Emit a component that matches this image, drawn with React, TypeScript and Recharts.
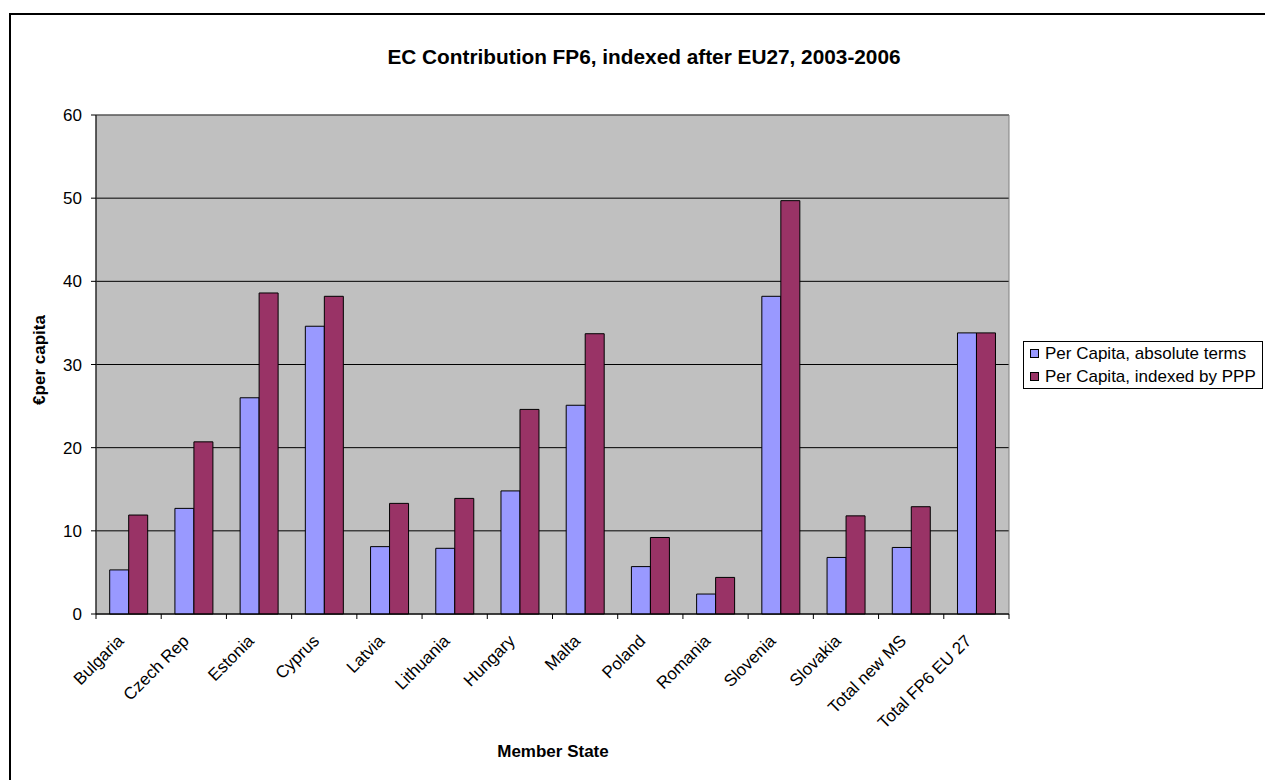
import React from "react";
import {
  Bar,
  BarChart,
  CartesianGrid,
  Legend,
  ReferenceArea,
  XAxis,
  YAxis,
} from "recharts";

// ---- data -------------------------------------------------------------
const memberStates = [
  "Bulgaria",
  "Czech Rep",
  "Estonia",
  "Cyprus",
  "Latvia",
  "Lithuania",
  "Hungary",
  "Malta",
  "Poland",
  "Romania",
  "Slovenia",
  "Slovakia",
  "Total new MS",
  "Total FP6 EU 27",
];

const absoluteTerms = [5.3, 12.7, 26.0, 34.6, 8.1, 7.9, 14.8, 25.1, 5.7, 2.4, 38.2, 6.8, 8.0, 33.8];
const indexedByPPP = [11.9, 20.7, 38.6, 38.2, 13.3, 13.9, 24.6, 33.7, 9.2, 4.4, 49.7, 11.8, 12.9, 33.8];

const yTicks = [0, 10, 20, 30, 40, 50, 60];

const seriesAbs = { key: "abs", label: "Per Capita, absolute terms", color: "#9999FF" };
const seriesPpp = { key: "ppp", label: "Per Capita, indexed by PPP", color: "#993366" };

const rows = memberStates.map((name, i) => ({
  name,
  abs: absoluteTerms[i],
  ppp: indexedByPPP[i],
}));

// ---- layout -----------------------------------------------------------
const FONT = '"Liberation Sans", Arial, Helvetica, sans-serif';
const W = 1265;
const H = 780;
const Y_AXIS_W = 40;
const X_AXIS_H = 100;
// plot area: x 96..1009, y 115..614
const MARGIN = { top: 115, right: 256, bottom: 66, left: 56 };
const PLOT_W = W - MARGIN.left - MARGIN.right - Y_AXIS_W;
const BAND = PLOT_W / memberStates.length;

// Excel-style category axis: tick marks sit on category boundaries,
// labels are rotated 45 degrees and end just left of the category centre.
function CategoryTick(props: any) {
  const { x, y, payload, index } = props;
  const isLast = index === memberStates.length - 1;
  return (
    <g>
      <line x1={x - BAND / 2} x2={x - BAND / 2} y1={y} y2={y + 5} stroke="#000" />
      {isLast && (
        <line x1={x + BAND / 2} x2={x + BAND / 2} y1={y} y2={y + 5} stroke="#000" />
      )}
      <g transform={`translate(${x - 4},${y + 28})`}>
        <text
          x={0}
          y={0}
          textAnchor="end"
          transform="rotate(-45)"
          fontSize={17}
          fontFamily={FONT}
          fill="#000"
        >
          {payload.value}
        </text>
      </g>
    </g>
  );
}

function LegendBox() {
  const items = [seriesAbs, seriesPpp];
  return (
    <div
      style={{
        border: "1px solid #000",
        background: "#fff",
        width: 240,
        height: 48,
        padding: "0 0 0 6px",
        boxSizing: "border-box",
        fontFamily: FONT,
        fontSize: 17,
        color: "#000",
        display: "flex",
        flexDirection: "column",
        justifyContent: "center",
      }}
    >
      {items.map((it) => (
        <div key={it.key} style={{ display: "flex", alignItems: "center", height: 23 }}>
          <span
            style={{
              width: 7,
              height: 7,
              background: it.color,
              border: "1px solid #000",
              marginRight: 6,
              display: "inline-block",
              flexShrink: 0,
            }}
          />
          <span style={{ whiteSpace: "nowrap" }}>{it.label}</span>
        </div>
      ))}
    </div>
  );
}

export default function App() {
  return (
    <div
      style={{
        position: "fixed",
        left: 0,
        top: 0,
        width: W,
        height: H,
        overflow: "hidden",
        background: "#fff",
      }}
    >
      {/* chart frame, runs off the right and bottom edges */}
      <div
        style={{
          position: "absolute",
          left: 9,
          top: 13,
          width: 1400,
          height: 900,
          border: "2px solid #000",
        }}
      />

      <div
        style={{
          position: "absolute",
          left: 644,
          top: 57,
          transform: "translate(-50%, -50%)",
          whiteSpace: "nowrap",
          fontFamily: FONT,
          fontWeight: "bold",
          fontSize: 20.8,
        }}
      >
        EC Contribution FP6, indexed after EU27, 2003-2006
      </div>

      <div
        style={{
          position: "absolute",
          left: 40,
          top: 360,
          transform: "translate(-50%, -50%) rotate(-90deg)",
          whiteSpace: "nowrap",
          fontFamily: FONT,
          fontWeight: "bold",
          fontSize: 17,
        }}
      >
        €per capita
      </div>

      <div
        style={{
          position: "absolute",
          left: 553,
          top: 752,
          transform: "translate(-50%, -50%)",
          whiteSpace: "nowrap",
          fontFamily: FONT,
          fontWeight: "bold",
          fontSize: 17,
        }}
      >
        Member State
      </div>

      <div style={{ position: "absolute", left: 0, top: 0 }}>
        <BarChart
          width={W}
          height={H}
          data={rows}
          margin={MARGIN}
          barCategoryGap="21%"
          barGap={0}
        >
          <CartesianGrid
            vertical={false}
            stroke="#000"
            strokeWidth={1}
            fill="#C0C0C0"
            fillOpacity={1}
          />
          <ReferenceArea y1={0} y2={60} fill="none" stroke="#808080" strokeWidth={1} />
          <XAxis
            dataKey="name"
            interval={0}
            height={X_AXIS_H}
            tickLine={false}
            tickSize={0}
            tickMargin={0}
            axisLine={{ stroke: "#000" }}
            tick={<CategoryTick />}
          />
          <YAxis
            domain={[0, 60]}
            ticks={yTicks}
            width={Y_AXIS_W}
            tickSize={5}
            tickMargin={9}
            axisLine={{ stroke: "#000" }}
            tickLine={{ stroke: "#000" }}
            tick={{ fontSize: 17, fontFamily: FONT, fill: "#000" }}
          />
          {/* centred + middle keeps the legend from eating into the plot offset */}
          <Legend
            layout="horizontal"
            verticalAlign="middle"
            align="center"
            content={<LegendBox />}
            wrapperStyle={{
              position: "absolute",
              left: 1023,
              top: 341,
              right: "auto",
              bottom: "auto",
              width: 240,
              height: 48,
            }}
          />
          <Bar
            dataKey={seriesAbs.key}
            name={seriesAbs.label}
            fill={seriesAbs.color}
            stroke="#000"
            strokeWidth={1}
            isAnimationActive={false}
          />
          <Bar
            dataKey={seriesPpp.key}
            name={seriesPpp.label}
            fill={seriesPpp.color}
            stroke="#000"
            strokeWidth={1}
            isAnimationActive={false}
          />
        </BarChart>
      </div>
    </div>
  );
}
